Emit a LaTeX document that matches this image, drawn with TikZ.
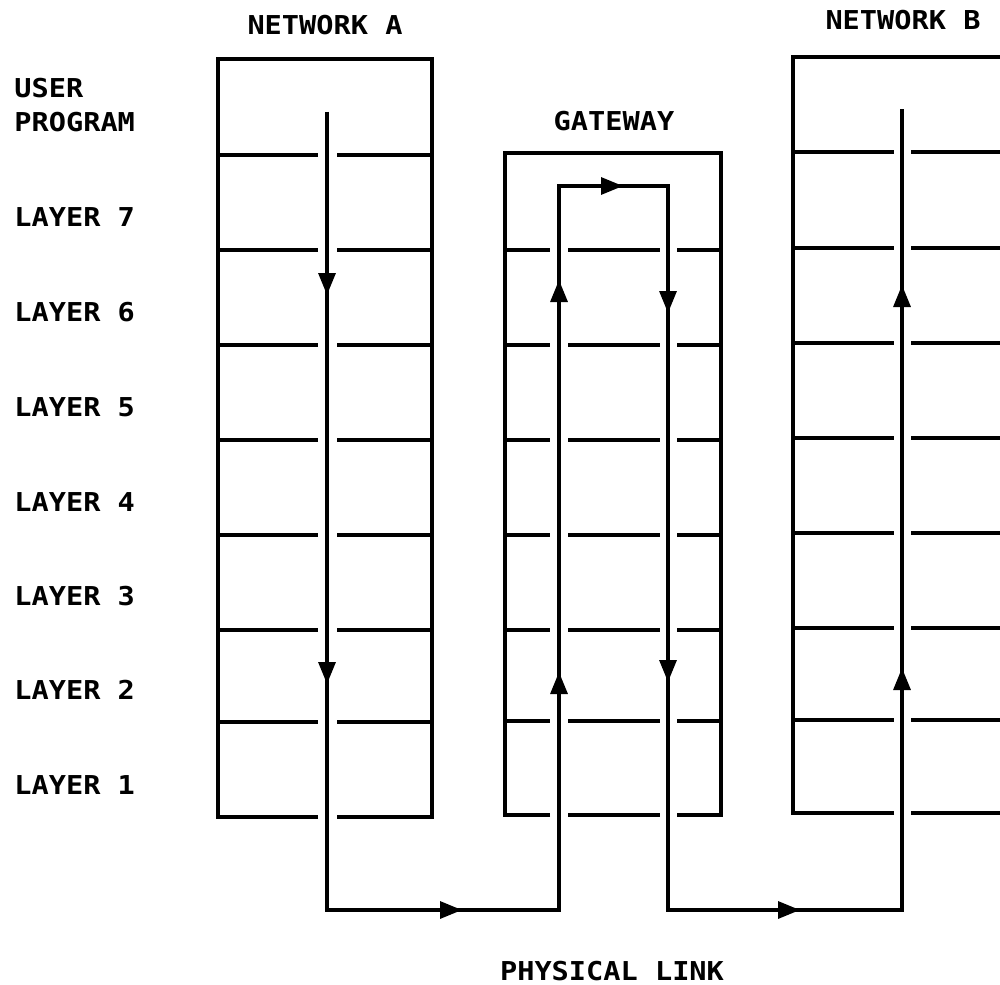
\documentclass[tikz,border=0pt]{standalone}
\usepackage{fontspec}
\setmonofont{DejaVu Sans Mono}
\usetikzlibrary{arrows.meta}
\begin{document}
\begin{tikzpicture}[x=0.5pt,y=-0.5pt,
  ln/.style={line width=1.7pt,line join=miter,line cap=butt},
  flow/.style={line width=1.6pt,line join=miter},
  tipA/.style={line width=1.6pt,-{Triangle[length=11pt,width=8.5pt]}},
  lbl/.style={font=\ttfamily\bfseries\fontsize{13}{15}\selectfont,inner sep=0pt,xscale=1.1},
  lbw/.style={lbl,anchor=base west},
  lbc/.style={lbl,anchor=base}]
\useasboundingbox (0,0) rectangle (1000,984);
\clip (0,0) rectangle (1000,984);
% Network A box
\draw[ln] (318,817) -- (218,817) -- (218,59) -- (432,59) -- (432,817) -- (337,817);
\foreach \y in {155,250,345,440,535,630,722}{
  \draw[ln] (218,\y) -- (318,\y);
  \draw[ln] (337,\y) -- (432,\y);
}
% Gateway box
\draw[ln] (550,815) -- (505,815) -- (505,153) -- (721,153) -- (721,815) -- (677,815);
\draw[ln] (568,815) -- (660,815);
\foreach \y in {250,345,440,535,630,721}{
  \draw[ln] (505,\y) -- (550,\y);
  \draw[ln] (568,\y) -- (660,\y);
  \draw[ln] (677,\y) -- (721,\y);
}
% Network B box
\draw[ln] (894,813) -- (793,813) -- (793,57) -- (1010,57);
\draw[ln] (911,813) -- (1010,813);
\foreach \y in {152,248,343,438,533,628,720}{
  \draw[ln] (793,\y) -- (894,\y);
  \draw[ln] (911,\y) -- (1010,\y);
}
% flow path coordinates
\coordinate (A1) at (327,112);
\coordinate (A2) at (327,295);
\coordinate (A3) at (327,684);
\coordinate (A4) at (327,910);
\coordinate (L1) at (462,910);
\coordinate (G1) at (559,910);
\coordinate (G2) at (559,672);
\coordinate (G3) at (559,280);
\coordinate (G4) at (559,186);
\coordinate (G5) at (623,186);
\coordinate (G6) at (668,186);
\coordinate (G7) at (668,313);
\coordinate (G8) at (668,682);
\coordinate (G9) at (668,910);
\coordinate (L2) at (800,910);
\coordinate (B1) at (902,910);
\coordinate (B2) at (902,668);
\coordinate (B3) at (902,285);
\coordinate (B4) at (902,109);
\draw[flow] (A1) -- (A4) -- (G1) -- (G4) -- (G6) -- (G9) -- (B1) -- (B4);
\draw[tipA] (A1) -- (A2);
\draw[tipA] (A2) -- (A3);
\draw[tipA] (A4) -- (L1);
\draw[tipA] (G1) -- (G2);
\draw[tipA] (G2) -- (G3);
\draw[tipA] (G4) -- (G5);
\draw[tipA] (G6) -- (G7);
\draw[tipA] (G7) -- (G8);
\draw[tipA] (G9) -- (L2);
\draw[tipA] (B1) -- (B2);
\draw[tipA] (B2) -- (B3);
% labels
\node[lbc] (na) at (325,35) {NETWORK A};
\node[lbc] (nb) at (903,30) {NETWORK B};
\node[lbc] (gw) at (614,131) {GATEWAY};
\node[lbc] (pl) at (612,980) {PHYSICAL LINK};
\node[lbw] (u1) at (14,98) {USER};
\node[lbw] (u2) at (14,132) {PROGRAM};
\node[lbw] (l7) at (14,227) {LAYER 7};
\node[lbw] (l6) at (14,321) {LAYER 6};
\node[lbw] (l5) at (14,416) {LAYER 5};
\node[lbw] (l4) at (14,511) {LAYER 4};
\node[lbw] (l3) at (14,605) {LAYER 3};
\node[lbw] (l2) at (14,699) {LAYER 2};
\node[lbw] (l1) at (14,794) {LAYER 1};
\end{tikzpicture}
\end{document}
